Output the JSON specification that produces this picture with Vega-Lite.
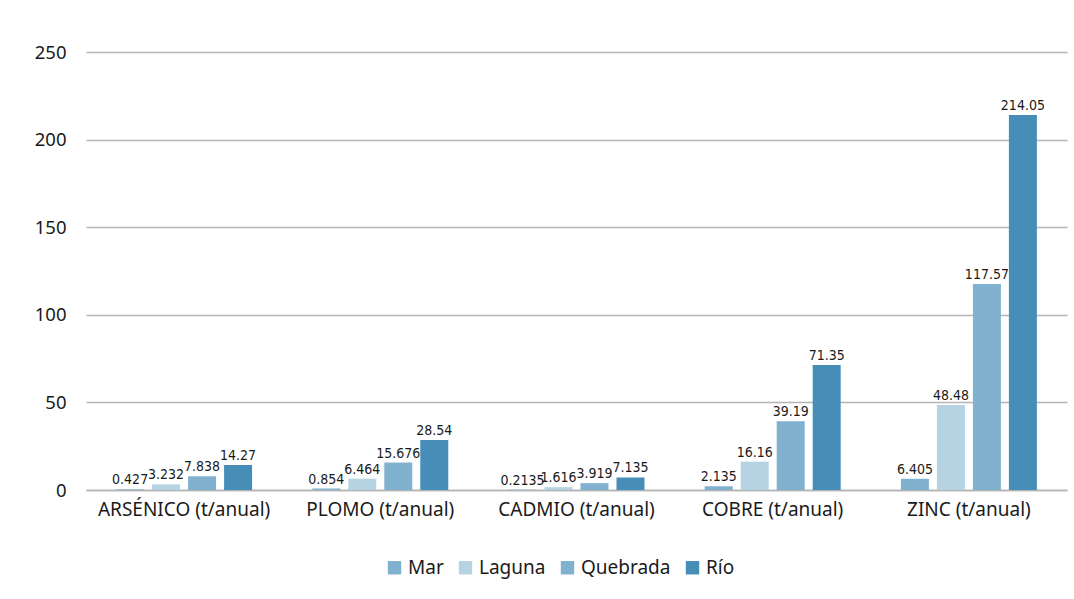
{
  "$schema": "https://vega.github.io/schema/vega-lite/v6.json",
  "width": 981,
  "height": 438,
  "autosize": {"type": "none"},
  "padding": {"left": 86, "top": 52, "right": 7, "bottom": 109},
  "background": "white",
  "data": {
    "values": [
      {"cat": "ARSÉNICO (t/anual)", "serie": "Mar", "v": 0.427},
      {"cat": "ARSÉNICO (t/anual)", "serie": "Laguna", "v": 3.232},
      {"cat": "ARSÉNICO (t/anual)", "serie": "Quebrada", "v": 7.838},
      {"cat": "ARSÉNICO (t/anual)", "serie": "Río", "v": 14.27},
      {"cat": "PLOMO (t/anual)", "serie": "Mar", "v": 0.854},
      {"cat": "PLOMO (t/anual)", "serie": "Laguna", "v": 6.464},
      {"cat": "PLOMO (t/anual)", "serie": "Quebrada", "v": 15.676},
      {"cat": "PLOMO (t/anual)", "serie": "Río", "v": 28.54},
      {"cat": "CADMIO (t/anual)", "serie": "Mar", "v": 0.2135},
      {"cat": "CADMIO (t/anual)", "serie": "Laguna", "v": 1.616},
      {"cat": "CADMIO (t/anual)", "serie": "Quebrada", "v": 3.919},
      {"cat": "CADMIO (t/anual)", "serie": "Río", "v": 7.135},
      {"cat": "COBRE (t/anual)", "serie": "Mar", "v": 2.135},
      {"cat": "COBRE (t/anual)", "serie": "Laguna", "v": 16.16},
      {"cat": "COBRE (t/anual)", "serie": "Quebrada", "v": 39.19},
      {"cat": "COBRE (t/anual)", "serie": "Río", "v": 71.35},
      {"cat": "ZINC (t/anual)", "serie": "Mar", "v": 6.405},
      {"cat": "ZINC (t/anual)", "serie": "Laguna", "v": 48.48},
      {"cat": "ZINC (t/anual)", "serie": "Quebrada", "v": 117.57},
      {"cat": "ZINC (t/anual)", "serie": "Río", "v": 214.05}
    ]
  },
  "encoding": {
    "x": {
      "field": "cat", "type": "nominal", "sort": null, "title": null,
      "scale": {"paddingInner": 0.307, "paddingOuter": 0.1535},
      "axis": {"labelAngle": 0, "labelFontSize": 19, "labelFont": "Noto Sans", "labelColor": "#1a1a1a", "labelPadding": 10, "ticks": false, "domainColor": "#b5b5b5", "domainWidth": 1.5, "grid": false}
    },
    "xOffset": {"field": "serie", "type": "nominal", "sort": ["Mar", "Laguna", "Quebrada", "Río"], "scale": {"paddingInner": 0.222, "paddingOuter": 0}},
    "y": {
      "field": "v", "type": "quantitative", "title": null,
      "scale": {"domain": [0, 250]},
      "axis": {"values": [0, 50, 100, 150, 200, 250], "labelFontSize": 18.5, "labelFont": "Noto Sans", "labelColor": "#1a1a1a", "labelPadding": 20, "ticks": false, "domain": false, "gridColor": "#b5b5b5", "gridWidth": 1.5}
    }
  },
  "layer": [
    {
      "mark": {"type": "bar"},
      "encoding": {
        "color": {
          "field": "serie", "type": "nominal", "sort": ["Mar", "Laguna", "Quebrada", "Río"],
          "scale": {"domain": ["Mar", "Laguna", "Quebrada", "Río"], "range": ["#80b1cf", "#b5d3e3", "#80b1cf", "#468db7"]},
          "legend": {"title": null, "orient": "none", "direction": "horizontal", "legendX": 299, "legendY": 506, "symbolType": "square", "symbolSize": 180, "symbolStrokeWidth": 0, "labelFontSize": 19, "labelFont": "Noto Sans", "labelColor": "#1a1a1a", "columnPadding": 12, "symbolOffset": 0, "labelOffset": 4}
        }
      }
    },
    {
      "mark": {"type": "text", "baseline": "bottom", "dy": -2, "fontSize": 14, "font": "DejaVu Sans Condensed", "color": "#1a1a1a"},
      "encoding": {"text": {"field": "v", "type": "quantitative", "format": "~g"}}
    }
  ],
  "config": {"view": {"stroke": null}}
}
